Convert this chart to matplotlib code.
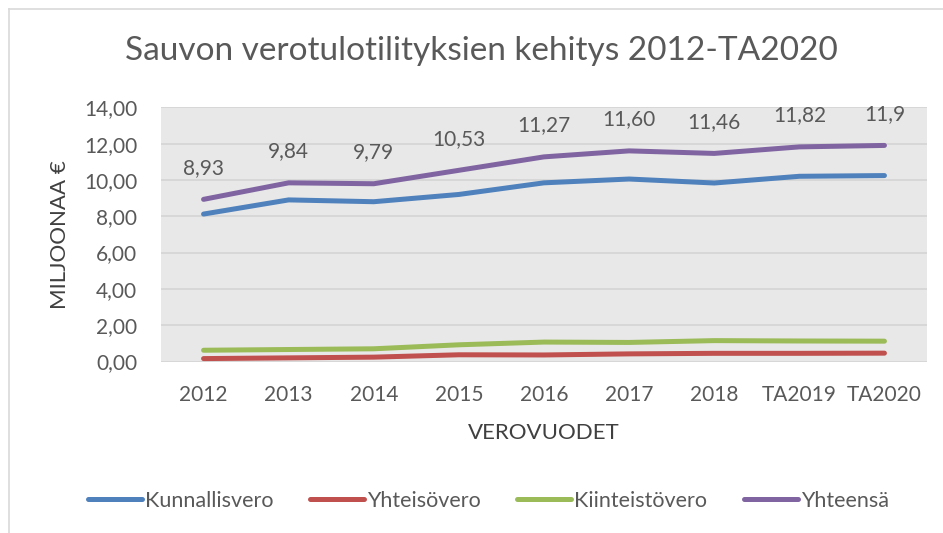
import matplotlib.pyplot as plt
from matplotlib.ticker import FuncFormatter
from matplotlib.lines import Line2D

plt.rcParams['font.family'] = ['Lato', 'DejaVu Sans']

vuodet = ["2012", "2013", "2014", "2015", "2016", "2017", "2018", "TA2019", "TA2020"]
kunnallisvero = [8.12, 8.90, 8.80, 9.20, 9.84, 10.05, 9.83, 10.20, 10.24]
yhteisovero = [0.16, 0.20, 0.24, 0.37, 0.36, 0.42, 0.45, 0.45, 0.46]
kiinteistovero = [0.62, 0.66, 0.70, 0.92, 1.07, 1.05, 1.15, 1.13, 1.12]
yhteensa = [8.93, 9.84, 9.79, 10.53, 11.27, 11.60, 11.46, 11.82, 11.9]
yhteensa_labels = ["8,93", "9,84", "9,79", "10,53", "11,27", "11,60", "11,46", "11,82", "11,9"]

grey = '#595959'

fig = plt.figure(figsize=(9.43, 5.33), dpi=100)
ax = fig.add_axes([161 / 943, 1 - 361.5 / 533, (927 - 161) / 943, (361.5 - 107.3) / 533])
ax.set_facecolor('#E8E8E8')

x = list(range(len(vuodet)))
sarjat = [
    (kunnallisvero, '#4F81BD', 'Kunnallisvero'),
    (yhteisovero, '#C0504D', 'Yhteisövero'),
    (kiinteistovero, '#9BBB59', 'Kiinteistövero'),
    (yhteensa, '#8064A2', 'Yhteensä'),
]
for vals, col, nimi in sarjat:
    ax.plot(x, vals, color=col, lw=3.6, solid_capstyle='round', solid_joinstyle='round', label=nimi, zorder=3)

for xi, v, t in zip(x, yhteensa, yhteensa_labels):
    ax.annotate(t, (xi, v), xytext=(0, 15.5), textcoords='offset points',
                ha='center', va='bottom', fontsize=15, color=grey)

ax.set_xlim(-0.5, len(vuodet) - 0.5)
ax.set_ylim(0, 14)
ax.set_yticks([0, 2, 4, 6, 8, 10, 12, 14])
ax.yaxis.set_major_formatter(FuncFormatter(lambda v, p: f"{v:.2f}".replace('.', ',')))
ax.set_xticks(x)
ax.set_xticklabels(vuodet)
ax.grid(axis='y', color='#D4D4D4', lw=1.2, zorder=0)
ax.set_axisbelow(True)
for s in ax.spines.values():
    s.set_visible(False)
ax.tick_params(axis='both', length=0, labelsize=15, colors=grey)
ax.tick_params(axis='x', pad=17)
ax.tick_params(axis='y', pad=17)

ax.set_ylabel("MILJOONAA €", fontsize=16, color='#404040')
ax.yaxis.set_label_coords(-0.119, 0.5)
ax.set_xlabel("VEROVUODET", fontsize=16, color='#404040')
ax.xaxis.set_label_coords(0.5, -0.242)

fig.text(0.51, 0.905, "Sauvon verotulotilityksien kehitys 2012-TA2020", ha='center', va='center',
         fontsize=24, color=grey)

handles = [Line2D([0], [0], color=c, lw=3.6, solid_capstyle='round') for _, c, _ in sarjat]
fig.legend(handles, [n for _, _, n in sarjat], loc='center', bbox_to_anchor=(0.518, 1 - 501 / 533),
           ncol=4, frameon=False, fontsize=15.5, labelcolor=grey, handlelength=2.5,
           handletextpad=0.15, columnspacing=1.7)

# rajaviiva vasemmalla ja ylhaalla
fig.add_artist(Line2D([9 / 943, 9 / 943], [0, 1 - 9 / 533], color='#D9D9D9', lw=1.2, transform=fig.transFigure))
fig.add_artist(Line2D([9 / 943, 1], [1 - 9 / 533, 1 - 9 / 533], color='#D9D9D9', lw=1.2, transform=fig.transFigure))

fig.savefig("out.png", dpi=100)
